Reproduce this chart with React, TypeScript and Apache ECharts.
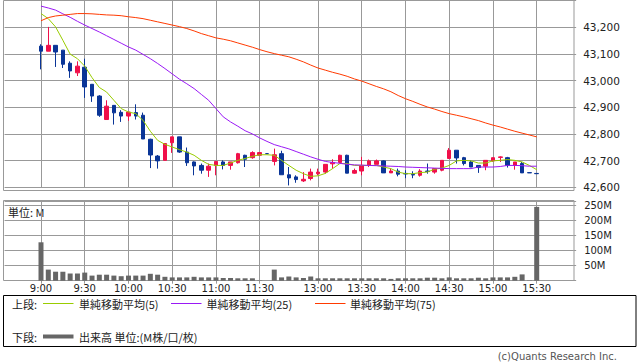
import React, { useEffect, useRef } from 'react';
import * as echarts from 'echarts';

// 5-minute slots (index 31 is an empty slot between the sessions)
const sessionTimes = [
  '9:00', '9:05', '9:10', '9:15', '9:20', '9:25', '9:30', '9:35', '9:40', '9:45', '9:50', '9:55',
  '10:00', '10:05', '10:10', '10:15', '10:20', '10:25', '10:30', '10:35', '10:40', '10:45', '10:50', '10:55',
  '11:00', '11:05', '11:10', '11:15', '11:20', '11:25', '11:30',
  'break',
  '12:30', '12:35', '12:40', '12:45', '12:50', '12:55',
  '13:00', '13:05', '13:10', '13:15', '13:20', '13:25', '13:30', '13:35', '13:40', '13:45', '13:50', '13:55',
  '14:00', '14:05', '14:10', '14:15', '14:20', '14:25', '14:30', '14:35', '14:40', '14:45', '14:50', '14:55',
  '15:00', '15:05', '15:10', '15:15', '15:20', '15:25', '15:30',
];

const tickLabels = ['9:00', '9:30', '10:00', '10:30', '11:00', '11:30', '13:00', '13:30', '14:00', '14:30', '15:00', '15:30'];

const opens = [
  43129, 43110, 43132, 43114, 43065, 43029, 43050, 42986, 42942, 42854, 42907, 42881,
  42867, 42880, 42870, 42780, 42717, 42701, 42767, 42789, 42732, 42695, 42682, 42664,
  42682, 42695, 42682, 42692, 42720, 42711, 42720,
  42726,
  42697, 42726, 42647, 42639, 42624, 42633,
  42651, 42657, 42688, 42693, 42720, 42653, 42661, 42682, 42686, 42699, 42654, 42661,
  42652, 42648, 42645, 42661, 42657, 42664, 42708, 42739, 42711, 42695, 42682, 42679,
  42699, 42712, 42711, 42682, 42689, 42655, 42652,
];
const closes = [
  43110, 43132, 43107, 43061, 43036, 43054, 42976, 42942, 42870, 42904, 42879, 42867,
  42882, 42867, 42781, 42721, 42699, 42764, 42789, 42732, 42692, 42680, 42664, 42679,
  42697, 42682, 42695, 42726, 42705, 42730, 42730,
  42726,
  42722, 42647, 42635, 42629, 42630, 42657,
  42657, 42686, 42693, 42720, 42653, 42663, 42682, 42699, 42699, 42654, 42661, 42649,
  42650, 42646, 42661, 42659, 42670, 42701, 42739, 42710, 42689, 42676, 42674, 42701,
  42711, 42714, 42682, 42695, 42654, 42654, 42651,
];
const lows = [
  43042, 43110, 43051, 43047, 43010, 43017, 42935, 42920, 42864, 42854, 42835, 42845,
  42849, 42854, 42781, 42672, 42670, 42701, 42729, 42729, 42680, 42645, 42651, 42639,
  42645, 42667, 42666, 42689, 42676, 42707, 42720,
  42726,
  42682, 42647, 42607, 42617, 42620, 42626,
  42645, 42651, 42670, 42690, 42653, 42651, 42645, 42676, 42686, 42654, 42654, 42641,
  42634, 42634, 42640, 42651, 42651, 42660, 42708, 42689, 42682, 42676, 42654, 42664,
  42696, 42695, 42674, 42666, 42654, 42654, 42651,
];
const highs = [
  43136, 43201, 43132, 43114, 43072, 43072, 43082, 42986, 42945, 42926, 42907, 42889,
  42882, 42911, 42880, 42782, 42721, 42764, 42789, 42789, 42749, 42697, 42689, 42689,
  42697, 42701, 42695, 42729, 42722, 42735, 42732,
  42726,
  42745, 42737, 42676, 42645, 42657, 42670,
  42670, 42686, 42705, 42722, 42722, 42670, 42714, 42704, 42704, 42701, 42670, 42670,
  42664, 42660, 42668, 42689, 42670, 42701, 42747, 42739, 42714, 42701, 42682, 42701,
  42711, 42716, 42714, 42695, 42695, 42655, 42652,
];

// volume, millions
const volumes = [
  128, 37, 30, 30, 24, 24, 27, 17, 20, 20, 17, 15,
  17, 17, 17, 23, 20, 13, 11, 11, 11, 13, 11, 11,
  11, 9, 9, 8, 8, 8, 1,
  0,
  37, 11, 14, 11, 9, 14,
  8, 8, 8, 8, 8, 8, 8, 8, 8, 8, 6, 8,
  8, 8, 8, 10, 10, 8, 11, 8, 8, 8, 10, 8,
  11, 11, 11, 13, 21, 1, 246,
];

const ma5 = [
  43251, 43232, 43201, 43151, 43099, 43082, 43054, 43011, 42974, 42957, 42926, 42895,
  42882, 42876, 42851, 42810, 42776, 42761, 42751, 42741, 42732, 42720, 42701, 42686,
  42682, 42682, 42691, 42701, 42708, 42716, 42722,
  42722,
  42720, 42701, 42682, 42664, 42651, 42641,
  42643, 42652, 42670, 42689, 42689, 42682, 42682, 42682, 42682, 42676, 42670, 42657,
  42651, 42651, 42655, 42657, 42668, 42672, 42682, 42699, 42701, 42699, 42691, 42691,
  42699, 42701, 42704, 42701, 42695, 42682, 42666,
];
const ma25 = [
  43279, 43272, 43264, 43250, 43237, 43222, 43208, 43195, 43182, 43168, 43154, 43140,
  43126, 43114, 43098, 43082, 43064, 43045, 43025, 43005, 42988, 42970, 42948, 42926,
  42895, 42864, 42845, 42829, 42812, 42800, 42785,
  42772,
  42760, 42752, 42744, 42734, 42724, 42714,
  42705, 42697, 42693, 42690, 42686, 42684, 42683, 42682, 42681, 42680, 42679, 42678,
  42676, 42675, 42674, 42673, 42672, 42671, 42670, 42670, 42670, 42670, 42676, 42676,
  42676, 42678, 42682, 42682, 42681, 42679, 42679,
];
const ma75 = [
  43224, 43236, 43242, 43245, 43248, 43251, 43251, 43250, 43248, 43246, 43245, 43243,
  43239, 43236, 43232, 43226, 43220, 43214, 43208, 43202, 43195, 43186, 43176, 43168,
  43160, 43155, 43149, 43141, 43133, 43125, 43116,
  43108,
  43101, 43095, 43089, 43080, 43070, 43058,
  43047, 43039, 43031, 43024, 43016, 43006, 42998, 42988, 42978, 42969, 42958, 42944,
  42932, 42922, 42911, 42901, 42893, 42884, 42876, 42870, 42864, 42857, 42850, 42841,
  42833, 42826, 42818, 42810, 42803, 42796, 42789,
];

const PAD = 5;
const UP = '#f0104a';
const DOWN = '#0a3597';
const GRID = '#999999';
const TXT = '#222222';
const CJK = "'Noto Sans CJK JP', 'DejaVu Sans', sans-serif";

function pad<T>(arr: T[], fill: any): any[] {
  const pre = Array.from({ length: PAD }, () => fill);
  const post = Array.from({ length: PAD }, () => fill);
  return [...pre, ...arr, ...post];
}

export default function App() {
  const ref = useRef<HTMLDivElement>(null);

  useEffect(() => {
    if (!ref.current) return;
    const chart = echarts.init(ref.current, null, { renderer: 'svg' });

    const categories = [
      ...Array.from({ length: PAD }, (_, k) => `pre${k}`),
      ...sessionTimes,
      ...Array.from({ length: PAD }, (_, k) => `post${k}`),
    ];
    const showAt = (_i: number, v: string) => tickLabels.includes(v);

    const candles = pad(
      sessionTimes.map((_, i) => [opens[i], closes[i], lows[i], highs[i]]),
      ['-', '-', '-', '-']
    );

    const gridLeft = 4.55;
    const gridWidth = 568.6;

    const option: any = {
      animation: false,
      textStyle: { fontFamily: 'DejaVu Sans' },
      grid: [
        { left: gridLeft, width: gridWidth, top: 0.5, height: 186.8 },
        { left: gridLeft, width: gridWidth, top: 200.9, height: 79.8 },
      ],
      xAxis: [
        {
          type: 'category', gridIndex: 0, data: categories, boundaryGap: false,
          axisLine: { show: false }, axisTick: { show: false }, axisLabel: { show: false },
          splitLine: { show: true, interval: showAt, lineStyle: { color: GRID, width: 1 } },
        },
        {
          type: 'category', gridIndex: 1, data: categories, boundaryGap: false,
          axisLine: { show: false },
          axisTick: { show: true, interval: showAt, length: 3, lineStyle: { color: GRID } },
          axisLabel: { show: true, interval: showAt, margin: 3, fontSize: 10, color: TXT, fontFamily: 'DejaVu Sans' },
          splitLine: { show: true, interval: showAt, lineStyle: { color: GRID, width: 1 } },
        },
      ],
      yAxis: [
        {
          type: 'value', gridIndex: 0, position: 'right', min: 42600, max: 43300, interval: 100,
          axisLine: { show: false },
          axisTick: { show: true, length: 3, lineStyle: { color: GRID } },
          axisLabel: {
            margin: 10, fontSize: 10.5, color: TXT, fontFamily: 'DejaVu Sans',
            formatter: (v: number) => (v >= 43300 ? '' : v.toLocaleString('en-US')),
          },
          splitLine: { show: true, lineStyle: { color: GRID, width: 1 } },
        },
        {
          type: 'value', gridIndex: 1, position: 'right', min: 0, max: 266, interval: 50,
          axisLine: { show: false },
          axisTick: { show: true, length: 3, lineStyle: { color: GRID } },
          axisLabel: {
            margin: 11, fontSize: 10, color: TXT, fontFamily: 'DejaVu Sans',
            formatter: (v: number) => (v > 0 && v % 50 === 0 ? `${v}M` : ''),
          },
          splitLine: { show: true, lineStyle: { color: GRID, width: 1 } },
        },
      ],
      series: [
        {
          type: 'candlestick', xAxisIndex: 0, yAxisIndex: 0, data: candles, barWidth: 4,
          itemStyle: { color: UP, color0: DOWN, borderColor: UP, borderColor0: DOWN, borderWidth: 1 },
        },
        {
          type: 'line', xAxisIndex: 0, yAxisIndex: 0, data: pad(ma5, '-'), showSymbol: false,
          lineStyle: { color: '#99cc00', width: 1 }, itemStyle: { color: '#99cc00' },
        },
        {
          type: 'line', xAxisIndex: 0, yAxisIndex: 0, data: pad(ma25, '-'), showSymbol: false,
          lineStyle: { color: '#9a19f5', width: 1 }, itemStyle: { color: '#9a19f5' },
        },
        {
          type: 'line', xAxisIndex: 0, yAxisIndex: 0, data: pad(ma75, '-'), showSymbol: false,
          lineStyle: { color: '#ff3a00', width: 1 }, itemStyle: { color: '#ff3a00' },
        },
        {
          type: 'bar', xAxisIndex: 1, yAxisIndex: 1, data: pad(volumes, '-'), barWidth: 5,
          itemStyle: { color: '#666666' },
        },
      ],
      graphic: [
        { type: 'rect', shape: { x: 3.5, y: 0.5, width: 570.5, height: 190 }, style: { fill: 'none', stroke: GRID, lineWidth: 1 }, silent: true },
        { type: 'rect', shape: { x: 3.5, y: 200.5, width: 570.5, height: 80 }, style: { fill: 'none', stroke: GRID, lineWidth: 1 }, silent: true },
        { type: 'text', x: 8, y: 212, style: { text: '単位: M', fontSize: 11, fontFamily: CJK, fill: TXT, verticalAlign: 'middle' } },
        // legend box
        { type: 'rect', shape: { x: 3.5, y: 295.5, width: 632.5, height: 51 }, style: { fill: 'none', stroke: '#000', lineWidth: 1 }, silent: true },
        { type: 'text', x: 12, y: 303.5, style: { text: '上段:', fontSize: 11, fontFamily: CJK, fill: TXT, verticalAlign: 'middle' } },
        { type: 'line', shape: { x1: 43, y1: 303.5, x2: 73.5, y2: 303.5 }, style: { stroke: '#99cc00', lineWidth: 1 } },
        { type: 'text', x: 79, y: 303.5, style: { text: '単純移動平均(5)', fontSize: 11, fontFamily: CJK, fill: TXT, verticalAlign: 'middle' } },
        { type: 'line', shape: { x1: 171, y1: 303.5, x2: 201.5, y2: 303.5 }, style: { stroke: '#9a19f5', lineWidth: 1 } },
        { type: 'text', x: 206.5, y: 303.5, style: { text: '単純移動平均(25)', fontSize: 11, fontFamily: CJK, fill: TXT, verticalAlign: 'middle' } },
        { type: 'line', shape: { x1: 315, y1: 303.5, x2: 345.5, y2: 303.5 }, style: { stroke: '#ff3a00', lineWidth: 1 } },
        { type: 'text', x: 350, y: 303.5, style: { text: '単純移動平均(75)', fontSize: 11, fontFamily: CJK, fill: TXT, verticalAlign: 'middle' } },
        { type: 'text', x: 12, y: 336.5, style: { text: '下段:', fontSize: 11, fontFamily: CJK, fill: TXT, verticalAlign: 'middle' } },
        { type: 'line', shape: { x1: 43, y1: 336.5, x2: 73.5, y2: 336.5 }, style: { stroke: '#666666', lineWidth: 4 } },
        { type: 'text', x: 79, y: 336.5, style: { text: '出来高 単位:(M株/口/枚)', fontSize: 11, fontFamily: CJK, fill: TXT, verticalAlign: 'middle' } },
        { type: 'text', x: 617, y: 356.5, style: { text: '(c)Quants Research Inc.', fontSize: 10, fontFamily: 'DejaVu Sans', fill: '#555555', align: 'right', verticalAlign: 'middle' } },
      ],
    };

    chart.setOption(option);
    return () => chart.dispose();
  }, []);

  return (
    <div
      ref={ref}
      style={{ position: 'fixed', left: 0, top: 0, width: 638, height: 362, background: '#ffffff' }}
    />
  );
}
